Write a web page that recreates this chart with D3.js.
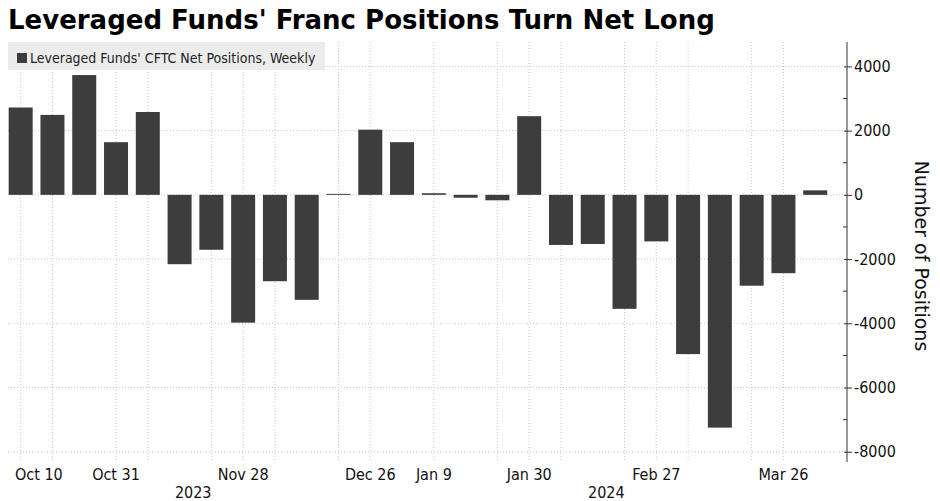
<!DOCTYPE html>
<html>
<head>
<meta charset="utf-8">
<script src="https://cdn.jsdelivr.net/npm/d3@7"></script>
<style>
  body { margin: 0; background: #fff; }
  svg { display: block; font-family: "DejaVu Sans", sans-serif; }
</style>
</head>
<body>
<div id="chart"></div>
<script>
// weekly CFTC report dates (Tuesdays) and leveraged funds net positions
var weekDates = ["2023-10-10","2023-10-17","2023-10-24","2023-10-31","2023-11-07","2023-11-14",
    "2023-11-21","2023-11-28","2023-12-05","2023-12-12","2023-12-19","2023-12-26","2024-01-02",
    "2024-01-09","2024-01-16","2024-01-23","2024-01-30","2024-02-06","2024-02-13","2024-02-20",
    "2024-02-27","2024-03-05","2024-03-12","2024-03-19","2024-03-26","2024-04-02"];
var netPositions = [2720, 2490, 3730, 1640, 2580, -2160, -1710, -3980, -2690, -3270, 30, 2030,
    1640, 50, -90, -170, 2450, -1560, -1530, -3550, -1450, -4960, -7250, -2830, -2440, 140];

// x labels, vertical gridlines, year labels
var tickDates = ["2023-10-10","2023-10-31","2023-11-28","2023-12-26","2024-01-09","2024-01-30","2024-02-27","2024-03-26"];
var tickLabels = ["Oct 10","Oct 31","Nov 28","Dec 26","Jan 9","Jan 30","Feb 27","Mar 26"];
var gridDates = ["2023-10-10","2023-10-17","2023-10-31","2023-11-07","2023-11-21","2023-11-28",
    "2023-12-05","2023-12-19","2023-12-26","2024-01-09","2024-01-23","2024-01-30","2024-02-06",
    "2024-02-20","2024-02-27","2024-03-05","2024-03-19","2024-03-26"];
var yearLabels = ["2023","2024"];
var yearDates = ["2023-11-17","2024-02-16"];
var yTicks = [4000, 2000, 0, -2000, -4000, -6000, -8000];
var yMinorTicks = [3000, 1000, -1000, -3000, -5000, -7000];

var parse = d3.timeParse("%Y-%m-%d");
var data = weekDates.map(function(d, i) { return {date: parse(d), value: netPositions[i]}; });

var W = 940, H = 501;
var plotLeft = 8, plotRight = 847, plotTop = 42, plotBottom = 462;
var condensed = "'DejaVu Sans Condensed', 'DejaVu Sans', sans-serif";

var svg = d3.select("#chart").append("svg")
    .attr("width", W)
    .attr("height", H);

// Add Title
svg.append("text")
    .attr("x", 8)
    .attr("y", 29)
    .style("font-size", "26px")
    .style("font-weight", "bold")
    .attr("fill", "#000")
    .text("Leveraged Funds' Franc Positions Turn Net Long");

// scales
var x = d3.scaleTime()
    .domain([d3.timeHour.offset(parse("2023-10-10"), -67), parse("2024-04-09")])
    .range([plotLeft, plotRight]);
var y = d3.scaleLinear()
    .domain([4760, -8320])
    .range([plotTop, plotBottom]);

var week = x(parse("2023-10-17")) - x(parse("2023-10-10"));
var barW = week * 0.755;

// horizontal grid
svg.append("g").selectAll("line")
    .data(yTicks)
    .enter().append("line")
    .attr("x1", plotLeft).attr("x2", plotRight)
    .attr("y1", function(d) { return y(d); })
    .attr("y2", function(d) { return y(d); })
    .attr("stroke", "#c8c8c8")
    .attr("stroke-width", 1)
    .attr("stroke-dasharray", "1,2");

// vertical grid
svg.append("g").selectAll("line")
    .data(gridDates)
    .enter().append("line")
    .attr("x1", function(d) { return x(parse(d)); })
    .attr("x2", function(d) { return x(parse(d)); })
    .attr("y1", plotTop).attr("y2", plotBottom)
    .attr("stroke", "#c8c8c8")
    .attr("stroke-width", 1)
    .attr("stroke-dasharray", "1,2");

// bars
svg.selectAll(".bar")
    .data(data)
    .enter().append("rect")
    .attr("class", "bar")
    .attr("fill", "#3d3d3d")
    .attr("x", function(d) { return x(d.date) - barW / 2; })
    .attr("y", function(d) { return y(Math.max(0, d.value)); })
    .attr("width", barW)
    .attr("height", function(d) { return Math.abs(y(d.value) - y(0)); });

// legend
svg.append("rect")
    .attr("x", 8).attr("y", 42)
    .attr("width", 317).attr("height", 28)
    .attr("fill", "#ececec");
svg.append("rect")
    .attr("x", 17).attr("y", 53)
    .attr("width", 10).attr("height", 10)
    .attr("fill", "#3d3d3d");
svg.append("text")
    .attr("x", 30).attr("y", 63)
    .style("font-size", "14px")
    .style("font-family", condensed)
    .attr("fill", "#222")
    .text("Leveraged Funds' CFTC Net Positions, Weekly");

// right axis
var yAxis = svg.append("g")
    .attr("transform", "translate(" + plotRight + ",0)")
    .call(d3.axisRight(y).tickValues(yTicks).tickSize(5).tickPadding(2));
yAxis.select(".domain").attr("d", "M0," + plotTop + "V" + plotBottom).attr("stroke", "#333");
yAxis.selectAll(".tick line").attr("x1", -3).attr("stroke", "#333");
yAxis.selectAll(".tick text")
    .style("font-size", "16px")
    .style("font-family", condensed)
    .attr("fill", "#111")
    .text(function(d) { return d < 0 ? "-" + Math.abs(d) : d; });
svg.append("g").selectAll("line")
    .data(yMinorTicks)
    .enter().append("line")
    .attr("x1", plotRight - 4).attr("x2", plotRight)
    .attr("y1", function(d) { return y(d); })
    .attr("y2", function(d) { return y(d); })
    .attr("stroke", "#333");

// text label for the y axis
svg.append("text")
    .attr("transform", "translate(915,256) rotate(90)")
    .style("text-anchor", "middle")
    .style("font-size", "19px")
    .attr("fill", "#111")
    .text("Number of Positions");

// x labels
svg.append("g").selectAll("text")
    .data(tickDates)
    .enter().append("text")
    .attr("x", function(d) { return x(parse(d)); })
    .attr("y", 480)
    .style("text-anchor", "middle")
    .style("font-size", "16px")
    .style("font-family", condensed)
    .attr("fill", "#111")
    .text(function(d, i) { return tickLabels[i]; })
    .each(function() {
        // keep first label inside the plot
        var w = this.getComputedTextLength();
        var cx = +d3.select(this).attr("x");
        if (cx - w / 2 < 15) d3.select(this).attr("x", 15 + w / 2);
    });

svg.append("g").selectAll("text")
    .data(yearDates)
    .enter().append("text")
    .attr("x", function(d) { return x(parse(d)); })
    .attr("y", 498)
    .style("text-anchor", "middle")
    .style("font-size", "16px")
    .style("font-family", condensed)
    .attr("fill", "#111")
    .text(function(d, i) { return yearLabels[i]; });
</script>
</body>
</html>
